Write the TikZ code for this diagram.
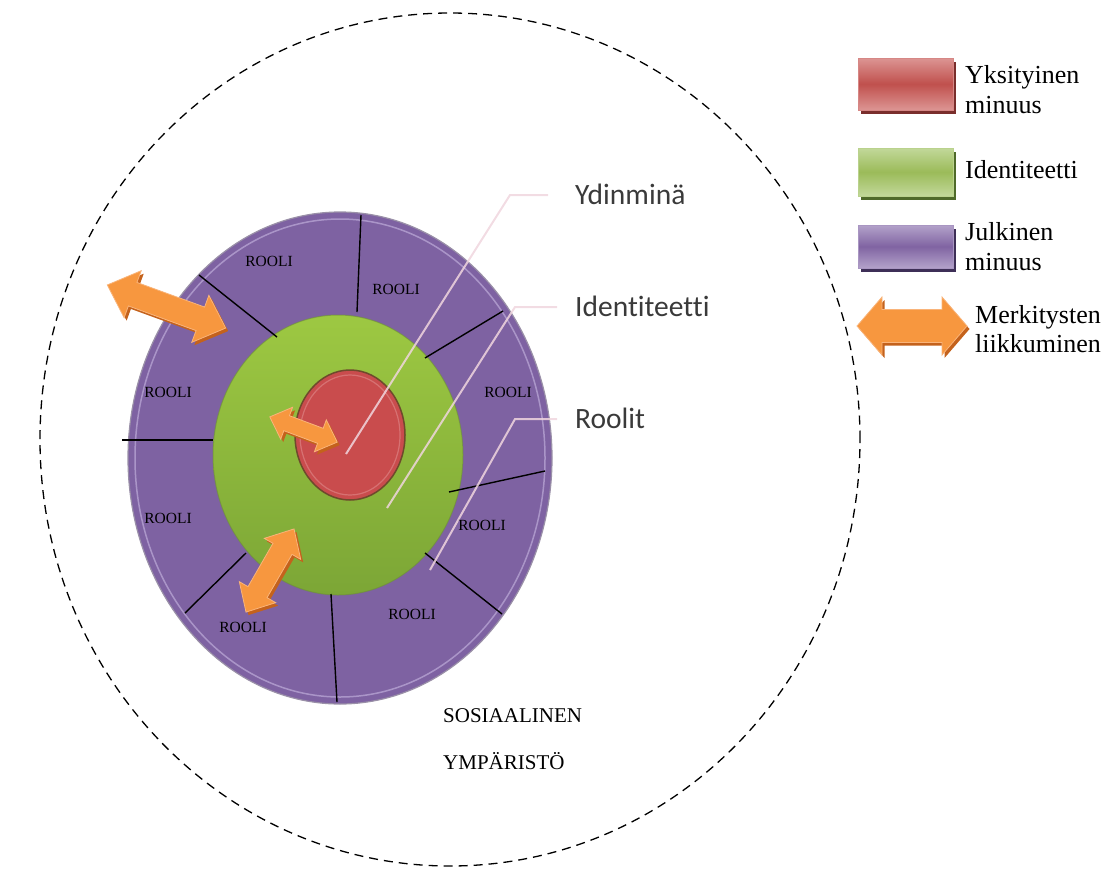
\documentclass[tikz,border=0pt]{standalone}
\usepackage{fontspec}
\setmainfont{Liberation Serif}
\newfontfamily\calib[RawFeature=-liga]{Carlito}
\definecolor{purp}{HTML}{7E62A2}
\definecolor{purpedge}{HTML}{9A90A8}
\definecolor{purphi}{HTML}{C8B8E2}
\definecolor{grtop}{HTML}{9DC842}
\definecolor{grbot}{HTML}{7CA636}
\definecolor{gredge}{HTML}{6E8F3A}
\definecolor{redf}{HTML}{C94C4D}
\definecolor{rededge}{HTML}{6E4A2C}
\definecolor{redhi}{HTML}{E8A0A0}
\definecolor{arrfill}{HTML}{F7973F}
\definecolor{arrdark}{HTML}{C4621C}
\definecolor{arredge}{HTML}{F9B47A}
\definecolor{callout}{HTML}{F0D6DE}
\definecolor{calltext}{HTML}{3A3A3A}
\definecolor{lgred}{HTML}{C0504D}
\definecolor{lgredl}{HTML}{DC9593}
\definecolor{lgredd}{HTML}{7A2E2C}
\definecolor{lggreen}{HTML}{9BBB59}
\definecolor{lggreenl}{HTML}{C2D89A}
\definecolor{lggreend}{HTML}{4F6A2A}
\definecolor{lgpurp}{HTML}{8064A2}
\definecolor{lgpurpl}{HTML}{B3A2CA}
\definecolor{lgpurpd}{HTML}{3E2F57}
\newcommand\mkarrowpath[4]{(-#1,0) -- (-#1+#4,#2) -- (-#1+#4,#3) -- (#1-#4,#3) -- (#1-#4,#2) -- (#1,0) -- (#1-#4,-#2) -- (#1-#4,-#3) -- (-#1+#4,-#3) -- (-#1+#4,-#2) -- cycle}
\newcommand\blockarrow[7]{%
  \begin{scope}[shift={(#1+2.5,#2+3)},rotate=#3]
    \fill[arrdark] \mkarrowpath{#4}{#5}{#6}{#7};
  \end{scope}
  \begin{scope}[shift={(#1,#2)},rotate=#3]
    \filldraw[fill=arrfill,draw=arredge,line width=0.8pt,line join=miter] \mkarrowpath{#4}{#5}{#6}{#7};
  \end{scope}}
\tikzset{
  rooli/.style={font=\fontsize{15.5}{18}\selectfont,inner sep=0pt},
  divider/.style={line width=1.4pt,black},
  callline/.style={line width=2pt,callout,opacity=.85},
  calllabel/.style={font=\calib\fontsize{29.5}{34}\selectfont,text=calltext,anchor=west,inner sep=0pt},
  legtext/.style={font=\fontsize{26}{30}\selectfont,anchor=base west,inner sep=0pt},
  envtext/.style={font=\fontsize{21}{24}\selectfont,anchor=base west,inner sep=0pt}
}
\begin{document}
\begin{tikzpicture}[x=1pt,y=-1pt]
\useasboundingbox (0,0) rectangle (1110,868);
% social environment
\draw[line width=1.3pt,dash pattern=on 9pt off 6pt] (450,439.5) ellipse [x radius=410pt,y radius=426.5pt];
% public self
\filldraw[fill=purp,draw=purpedge,line width=1.2pt] (340,458) ellipse [x radius=212pt,y radius=246pt];
\draw[purphi,line width=1.5pt,opacity=.6] (340,458) ellipse [x radius=205pt,y radius=239pt];
% identity
\shade[top color=grtop,bottom color=grbot] (338,455) ellipse [x radius=125pt,y radius=140pt];
\draw[gredge,line width=1pt,opacity=.6] (338,455) ellipse [x radius=125pt,y radius=140pt];
% core self
\filldraw[fill=redf,draw=rededge,line width=1.5pt] (350,435) ellipse [x radius=55pt,y radius=65pt];
\draw[redhi,line width=1.2pt,opacity=.45] (350,435) ellipse [x radius=50pt,y radius=60pt];
% role dividers
\draw[divider] (199,275) -- (277,337);
\draw[divider] (361,215) -- (357,312);
\draw[divider] (503,311) -- (425,358);
\draw[divider] (122,440) -- (213,440);
\draw[divider] (545,471) -- (449,492);
\draw[divider] (246,553) -- (185,613);
\draw[divider] (425,553) -- (502,614);
\draw[divider] (331,594) -- (337,702);
% callouts
\node[calllabel] (ydin) at (575,194) {Ydinminä};
\node[calllabel] (ident) at (575,306) {Identiteetti};
\node[calllabel] (roolit) at (575,418) {Roolit};
\coordinate (c1) at (548,195); \coordinate (k1) at (510,195); \coordinate (e1) at (346,454);
\coordinate (c2) at (557,307); \coordinate (k2) at (515,307); \coordinate (e2) at (387,508);
\coordinate (c3) at (557,419); \coordinate (k3) at (515,419); \coordinate (e3) at (430,570);
\draw[callline] (c1) -- (k1) -- (e1);
\draw[callline] (c2) -- (k2) -- (e2);
\draw[callline] (c3) -- (k3) -- (e3);
% role labels
\node[rooli] (r1) at (269,261) {ROOLI};
\node[rooli] (r2) at (396,289) {ROOLI};
\node[rooli] (r3) at (168,392) {ROOLI};
\node[rooli] (r4) at (508,392) {ROOLI};
\node[rooli] (r5) at (168,518) {ROOLI};
\node[rooli] (r6) at (482,525) {ROOLI};
\node[rooli] (r7) at (243,627) {ROOLI};
\node[rooli] (r8) at (412,614) {ROOLI};
% movement arrows
\blockarrow{166.5}{306.5}{-20}{63}{25}{12.5}{27}
\blockarrow{303.5}{429.5}{-20.5}{36}{17}{8}{18}
\blockarrow{270}{570.5}{60}{48}{21}{11}{23}
% environment text
\node[envtext] (env1) at (443,722) {SOSIAALINEN};
\node[envtext] (env2) at (443,769) {YMPÄRISTÖ};
% legend
\fill[lgredd] (861,62) rectangle (956,114);
\shade[top color=lgredl,bottom color=lgredl,middle color=lgred,draw=lgredl!80!lgred,line width=1pt] (858,58) rectangle (953,110);
\fill[lggreend] (861,152) rectangle (956,200);
\shade[top color=lggreenl,bottom color=lggreenl,middle color=lggreen,draw=lggreenl!80!lggreen,line width=1pt] (858,148) rectangle (953,196);
\fill[lgpurpd] (861,229) rectangle (956,272);
\shade[top color=lgpurpl,bottom color=lgpurpl,middle color=lgpurp,draw=lgpurpl!80!lgpurp,line width=1pt] (858,225) rectangle (953,268);
\blockarrow{912}{326}{0}{55}{29}{16.5}{25}
\node[legtext] (l1a) at (965,83) {Yksityinen};
\node[legtext] (l1b) at (965,113) {minuus};
\node[legtext] (l2) at (965,178) {Identiteetti};
\node[legtext] (l3a) at (965,240) {Julkinen};
\node[legtext] (l3b) at (965,270) {minuus};
\node[legtext] (l4a) at (975,323) {Merkitysten};
\node[legtext] (l4b) at (975,352) {liikkuminen};
\end{tikzpicture}
\end{document}
